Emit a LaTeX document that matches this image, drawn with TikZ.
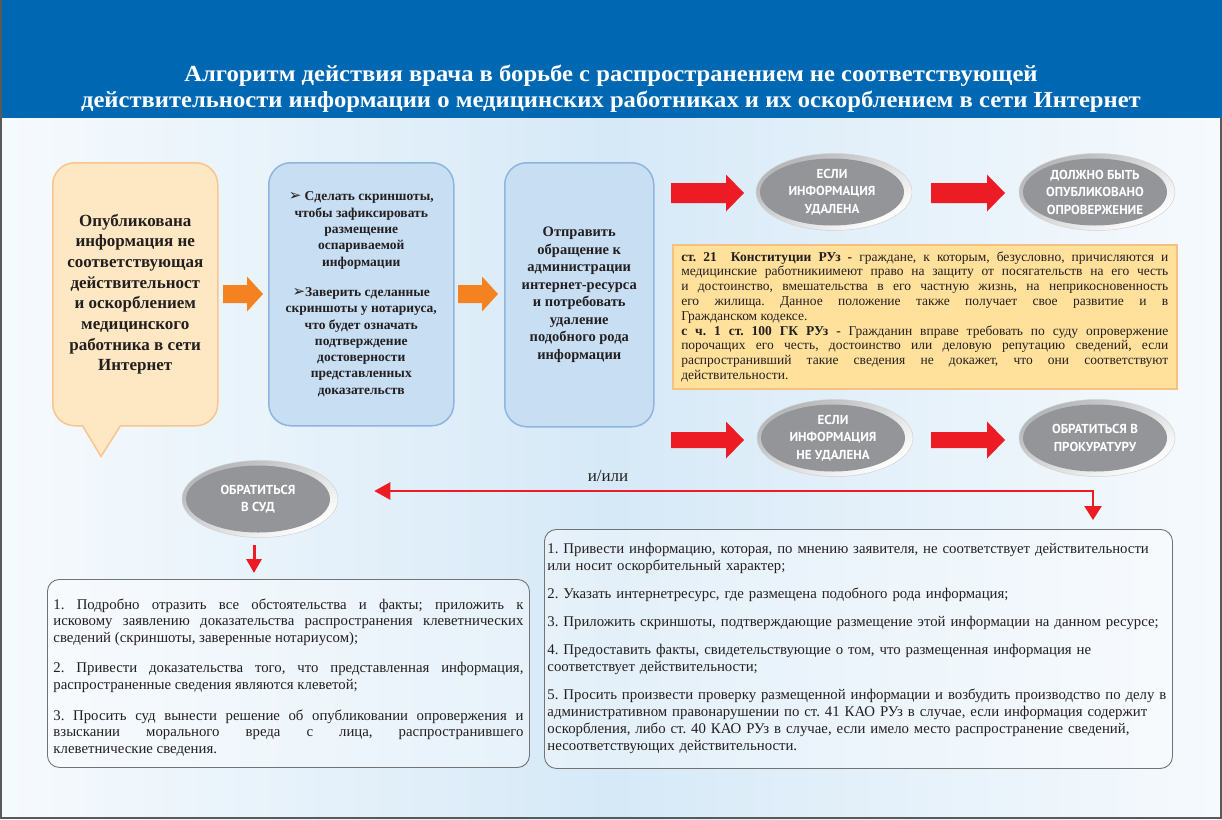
\documentclass[tikz,border=0pt]{standalone}
\usepackage{fontspec}
\setmainfont{Liberation Serif}
\newfontfamily\titlefont[FakeStretch=1.07]{Liberation Serif}
\newfontfamily\ellfont{PT Sans}
\newfontfamily\symfont{DejaVu Sans}
\usetikzlibrary{shapes.geometric,arrows.meta,calc}
\definecolor{topblue}{HTML}{0068B3}
\definecolor{peachfill}{HTML}{FDE8C3}
\definecolor{peachline}{HTML}{F9C48E}
\definecolor{bluefill}{HTML}{C7DEF3}
\definecolor{blueline}{HTML}{8FB4E0}
\definecolor{yelfill}{HTML}{FFE19C}
\definecolor{yelline}{HTML}{F7C083}
\definecolor{orangearr}{HTML}{F58220}
\definecolor{redarr}{HTML}{ED1C24}
\definecolor{ellgray}{HTML}{939598}
\definecolor{ringgray}{HTML}{B4B5B7}
\definecolor{txt}{HTML}{231F20}
\definecolor{bgblue}{HTML}{D6E9F7}
\definecolor{bgwhite}{HTML}{F6FAFD}
\newcommand\blockarrow[7]{%
  \fill[#7] (#1,{#2-#4}) -- ({#3-#6},{#2-#4}) -- ({#3-#6},{#2-#5}) -- (#3,#2)
    -- ({#3-#6},{#2+#5}) -- ({#3-#6},{#2+#4}) -- (#1,{#2+#4}) -- cycle;}
\newcommand\bul{{\symfont\bfseries\fontsize{15}{10}\selectfont ➢}}
\frenchspacing
\begin{document}
\frenchspacing
\begin{tikzpicture}[x=1pt,y=-1pt,
  bigbox/.style={rounded corners=22pt, line width=1.5pt, inner sep=0pt, anchor=north west, align=center, text=txt},
  ellout/.style={ellipse, minimum width=156pt, minimum height=77pt, inner sep=0pt,
     top color=ringgray, bottom color=white, shading angle=30, draw=black!18, line width=0.5pt},
  ellin/.style={ellipse, minimum width=144pt, minimum height=67pt, inner sep=0pt, fill=ellgray,
     text=white, align=center, font=\ellfont\bfseries\fontsize{13}{17.5}\selectfont},
  listbox/.style={rounded corners=12pt, draw=black!55, line width=0.9pt, fill=white, fill opacity=0.35,
     text opacity=1, text=txt, anchor=north west, inner ysep=0pt},
  redline/.style={draw=redarr, line width=2.5pt},
]
\useasboundingbox (0,0) rectangle (1222,819);
% background
\shade[left color=bgwhite, right color=bgwhite, middle color=bgblue] (0,118) rectangle (1222,819);
\fill[topblue] (0,0) rectangle (1222,118);
\draw[black!65, line width=2pt] (1,0) -- (1,818) -- (1221,818) -- (1221,118);
% title
\node[text=white, align=center, font=\titlefont\bfseries\fontsize{23}{26}\selectfont] (title) at (611,89)
  {Алгоритм действия врача в борьбе с распространением не соответствующей\\
   действительности информации о медицинских работниках и их оскорблением в сети Интернет};

% box 1 (callout)
\node[bigbox, fill=peachfill, draw=peachline, minimum width=165pt, minimum height=263pt,
      font=\bfseries\fontsize{17}{20.7}\selectfont] (b1) at (52,162)
  {Опубликована\\информация не\\соответствующая\\действительност\\и оскорблением\\медицинского\\работника в сети\\Интернет};
\fill[peachfill] ($(b1.south west)+(31,-1.5)$) -- ($(b1.south west)+(49,30)$) -- ($(b1.south west)+(68,-1.5)$) -- cycle;
\draw[peachline, line width=1.5pt] ($(b1.south west)+(31,0)$) -- ($(b1.south west)+(49,30)$) -- ($(b1.south west)+(68,0)$);

% box 2
\node[bigbox, fill=bluefill, draw=blueline, minimum width=185pt, minimum height=263pt,
      font=\bfseries\fontsize{13.5}{16.3}\selectfont] (b2) at (268,162)
  {\bul\ Сделать скриншоты,\\чтобы зафиксировать\\размещение\\оспариваемой\\информации\\[14pt]
   \bul Заверить сделанные\\скриншоты у нотариуса,\\что будет означать\\подтверждение\\достоверности\\представленных\\доказательств};

% box 3
\node[bigbox, fill=bluefill, draw=blueline, minimum width=149pt, minimum height=264pt,
      font=\bfseries\fontsize{14.5}{17.5}\selectfont] (b3) at (504,162)
  {Отправить\\обращение к\\администрации\\интернет-ресурса\\и потребовать\\удаление\\подобного рода\\информации};

% orange arrows
\blockarrow{223}{294}{263}{9}{17.5}{16}{orangearr}
\blockarrow{458}{294}{498}{9}{17.5}{16}{orangearr}

% top row
\blockarrow{671}{193}{744}{10}{18.5}{18}{redarr}
\node[ellout] (e1) at (834,192) {};
\node[ellin] (e1i) at ($(e1)+(-2,0)$) {ЕСЛИ\\ИНФОРМАЦИЯ\\УДАЛЕНА};
\blockarrow{931}{193}{1005}{10}{18.5}{18}{redarr}
\node[ellout] (e2) at (1097,192) {};
\node[ellin] (e2i) at ($(e2)+(-2,0)$) {ДОЛЖНО БЫТЬ\\ОПУБЛИКОВАНО\\ОПРОВЕРЖЕНИЕ};

% yellow law box
\node[fill=yelfill, draw=yelline, line width=1.5pt, anchor=north west, minimum width=504pt, minimum height=144pt,
      inner xsep=8.5pt, inner ysep=0pt, text width=487pt, align=justify, text=txt,
      font=\fontsize{13.5}{14.8}\selectfont] (law) at (672,244)
  {\hyphenpenalty=10000\exhyphenpenalty=10000\frenchspacing
   \textbf{ст. 21\ \ Конституции РУз -} граждане, к которым, безусловно, причисляются и\linebreak
   медицинские работникиимеют право на защиту от посягательств на его честь\linebreak
   и достоинство, вмешательства в его частную жизнь, на неприкосновенность\linebreak
   его жилища. Данное положение также получает свое развитие и в\linebreak
   Гражданском кодексе.\par
   \textbf{с ч. 1 ст. 100 ГК РУз -} Гражданин вправе требовать по суду опровержение\linebreak
   порочащих его честь, достоинство или деловую репутацию сведений, если\linebreak
   распространивший такие сведения не докажет, что они соответствуют\linebreak
   действительности.};

% second row
\blockarrow{671}{440}{744}{8}{18.5}{18}{redarr}
\node[ellout] (e3) at (835,438) {};
\node[ellin] (e3i) at ($(e3)+(-2,0)$) {ЕСЛИ\\ИНФОРМАЦИЯ\\НЕ УДАЛЕНА};
\blockarrow{931}{440}{1005}{8}{18.5}{18}{redarr}
\node[ellout] (e4) at (1097,438) {};
\node[ellin] (e4i) at ($(e4)+(-2,0)$) {ОБРАТИТЬСЯ В\\ПРОКУРАТУРУ};

% court ellipse
\node[ellout] (e5) at (260,499) {};
\node[ellin] (e5i) at ($(e5)+(-2,0)$) {ОБРАТИТЬСЯ\\В СУД};

% bottom-left list
\node[listbox, minimum width=482pt, minimum height=188pt, inner xsep=6pt, text width=470pt, align=justify,
      font=\fontsize{14.8}{16.6}\selectfont] (bl) at (47,579)
  {\hyphenpenalty=10000\exhyphenpenalty=10000\frenchspacing
   \rule{0pt}{18.5pt}1. Подробно отразить все обстоятельства и факты; приложить к\linebreak
   исковому заявлению доказательства распространения клеветнических\linebreak
   сведений (скриншоты, заверенные нотариусом);\par\vspace{14pt}
   2. Привести доказательства того, что представленная информация,\linebreak
   распространенные сведения являются клеветой;\par\vspace{14pt}
   3. Просить суд вынести решение об опубликовании опровержения и\linebreak
   взыскании морального вреда с лица, распространившего\linebreak
   клеветнические сведения.};

% bottom-right list
\node[listbox, minimum width=628pt, minimum height=239pt, inner xsep=3pt, text width=622pt, align=left,
      font=\fontsize{14.8}{17}\selectfont] (br) at (544,529)
  {\frenchspacing 1. Привести информацию, которая, по мнению заявителя, не соответствует действительности\\
   или носит оскорбительный характер;\\[11pt]
   2. Указать интернетресурс, где размещена подобного рода информация;\\[11pt]
   3. Приложить скриншоты, подтверждающие размещение этой информации на данном ресурсе;\\[11pt]
   4. Предоставить факты, свидетельствующие о том, что размещенная информация не\\
   соответствует действительности;\\[11pt]
   5. Просить произвести проверку размещенной информации и возбудить производство по делу в\\
   административном правонарушении по ст. 41 КАО РУз в случае, если информация содержит\\
   оскорбления, либо ст. 40 КАО РУз в случае, если имело место распространение сведений,\\
   несоответствующих действительности.};

% red split connector
\coordinate (splitL) at ($(e5.east)+(36,-8)$);
\coordinate (splitC) at (1093,491);
\coordinate (splitD) at ($(br.north west)+(549,-9)$);
\draw[redline, {Triangle[length=16pt,width=17pt]}-{Triangle[length=14pt,width=17pt]}]
  (splitL) -- (splitC) -- (splitD);
\node[font=\fontsize{17}{17}\selectfont, text=txt] (orlabel) at (608,476) {и/или};

% arrow from court to bottom-left list
\draw[draw=redarr, line width=3pt, -{Triangle[length=14pt,width=15pt]}]
  ($(e5.south)+(-6,7)$) -- ($(bl.north west)+(207,-6)$);
\end{tikzpicture}
\end{document}
